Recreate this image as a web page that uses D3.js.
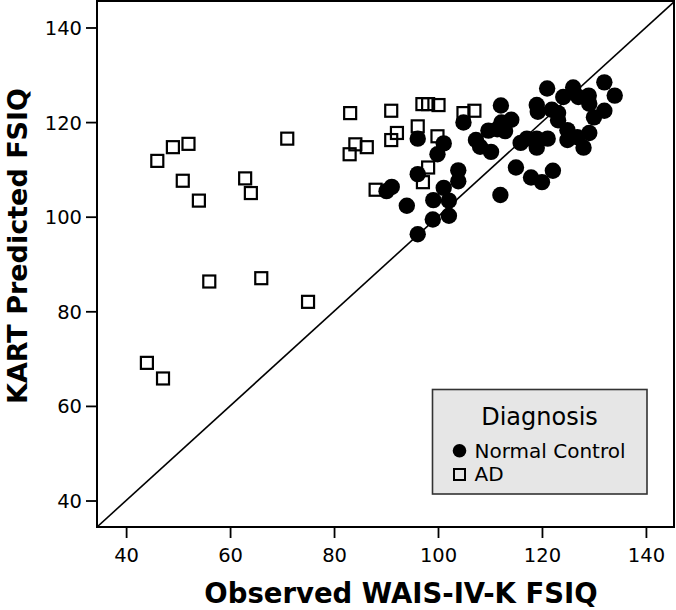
<!DOCTYPE html>
<html>
<head>
<meta charset="utf-8">
<script src="https://cdn.jsdelivr.net/npm/d3@7"></script>
<style>
  html, body { margin: 0; padding: 0; background: #ffffff; }
  svg { display: block; }
  text { font-family: "DejaVu Sans", sans-serif; fill: #000; }
</style>
</head>
<body>
<svg id="chart" width="676" height="610"></svg>
<script>
// ---- Data ----
const xTickValues = [40, 60, 80, 100, 120, 140];
const yTickValues = [40, 60, 80, 100, 120, 140];
const xTitle = "Observed WAIS-IV-K FSIQ";
const yTitle = "KART Predicted FSIQ";
const legendTitle = "Diagnosis";
const groupNames = ["Normal Control", "AD"];

// Normal Control: observed (x) and predicted (y)
const ncObserved = [112.1, 104.9, 96.1, 101.1, 99.9, 107.3, 108.1, 110.2, 109.7, 111.4,
  112.2, 114.1, 112.9, 121.0, 126.0, 132.0, 134.0, 124.1, 127.0, 129.0,
  129.1, 119.0, 119.2, 121.9, 123.1, 123.1, 132.0, 130.0, 115.9, 117.1,
  119.0, 119.0, 121.1, 124.9, 124.9, 126.8, 128.0, 129.1, 115.0, 117.9,
  120.0, 122.1, 112.0, 103.9, 103.9, 96.1, 91.1, 90.1, 101.1, 99.1,
  102.1, 94.0, 99.0, 102.1, 96.1];
const ncPredicted = [123.5, 119.9, 116.5, 115.5, 113.2, 116.2, 114.8, 113.7, 118.2, 118.5,
  119.9, 120.5, 118.1, 127.1, 127.3, 128.4, 125.6, 125.3, 125.3, 125.6,
  123.9, 123.6, 122.2, 122.6, 121.9, 120.4, 122.4, 121.0, 115.6, 116.5,
  116.5, 114.6, 116.5, 118.3, 116.2, 116.8, 114.6, 117.7, 110.4, 108.3,
  107.3, 109.7, 104.6, 109.8, 107.5, 109.0, 106.3, 105.4, 106.1, 103.5,
  103.4, 102.3, 99.4, 100.2, 96.3];

// AD: observed (x) and predicted (y)
const adObserved = [46.0, 49.0, 52.0, 50.9, 54.0, 62.9, 64.0, 71.0, 56.0, 66.0,
  75.0, 44.0, 47.1, 83.1, 91.0, 97.0, 98.1, 100.1, 104.9, 107.0,
  96.1, 92.1, 91.0, 99.9, 86.3, 84.1, 83.0, 98.1, 97.1, 88.0];
const adPredicted = [111.8, 114.7, 115.4, 107.6, 103.4, 108.1, 105.0, 116.5, 86.3, 87.0,
  82.0, 69.1, 65.8, 121.9, 122.4, 123.8, 123.8, 123.6, 121.9, 122.4,
  119.1, 117.7, 116.2, 117.0, 114.7, 115.3, 113.2, 110.4, 107.3, 105.7];

// ---- Layout ----
const svg = d3.select("#chart");
const plot = { left: 97, right: 674, top: 1, bottom: 527 };

const x = d3.scaleLinear().domain([34.4, 145.4]).range([plot.left, plot.right]);
const y = d3.scaleLinear().domain([34.4, 145.6]).range([plot.bottom, plot.top]);

svg.append("rect").attr("width", 676).attr("height", 610).attr("fill", "#ffffff");

// Clip for plot area
svg.append("clipPath").attr("id", "clip")
  .append("rect")
  .attr("x", plot.left).attr("y", plot.top)
  .attr("width", plot.right - plot.left).attr("height", plot.bottom - plot.top);

// Identity reference line (y = x)
const lineDomain = [34.4, 145.4];
svg.append("line")
  .attr("clip-path", "url(#clip)")
  .attr("x1", x(lineDomain[0])).attr("y1", y(lineDomain[0]))
  .attr("x2", x(lineDomain[1])).attr("y2", y(lineDomain[1]))
  .attr("stroke", "#000").attr("stroke-width", 1.6);

// Points
const ncData = ncObserved.map((v, i) => ({ x: v, y: ncPredicted[i] }));
const adData = adObserved.map((v, i) => ({ x: v, y: adPredicted[i] }));

const pts = svg.append("g").attr("clip-path", "url(#clip)");
pts.selectAll("circle.nc").data(ncData).join("circle")
  .attr("class", "nc")
  .attr("cx", d => x(d.x)).attr("cy", d => y(d.y))
  .attr("r", 8.2).attr("fill", "#000");

const sq = 12;
pts.selectAll("rect.ad").data(adData).join("rect")
  .attr("class", "ad")
  .attr("x", d => x(d.x) - sq / 2).attr("y", d => y(d.y) - sq / 2)
  .attr("width", sq).attr("height", sq)
  .attr("fill", "none").attr("stroke", "#000").attr("stroke-width", 2.2);

// Axes
const xAxis = d3.axisBottom(x).tickValues(xTickValues).tickSize(11).tickSizeOuter(0);
const gx = svg.append("g").attr("transform", `translate(0,${plot.bottom})`).call(xAxis);
gx.select(".domain").remove();
gx.selectAll(".tick line").attr("stroke", "#000").attr("stroke-width", 1.8);
gx.selectAll(".tick text")
  .attr("y", 35).attr("dy", null)
  .style("font-family", "DejaVu Sans").style("font-size", "19.5px").attr("fill", "#000");

const yAxis = d3.axisLeft(y).tickValues(yTickValues).tickSize(11).tickSizeOuter(0).tickPadding(4);
const gy = svg.append("g").attr("transform", `translate(${plot.left},0)`).call(yAxis);
gy.select(".domain").remove();
gy.selectAll(".tick line").attr("stroke", "#000").attr("stroke-width", 1.8);
gy.selectAll(".tick text")
  .attr("dy", "0.36em")
  .style("font-family", "DejaVu Sans").style("font-size", "19.5px").attr("fill", "#000");

// Frame
svg.append("rect")
  .attr("x", plot.left).attr("y", plot.top)
  .attr("width", plot.right - plot.left).attr("height", plot.bottom - plot.top)
  .attr("fill", "none").attr("stroke", "#000").attr("stroke-width", 2);

// Axis titles
svg.append("text")
  .attr("x", 401).attr("y", 603)
  .attr("text-anchor", "middle")
  .style("font-size", "27.5px").style("font-weight", "bold")
  .text(xTitle);

svg.append("text")
  .attr("transform", "translate(27,246) rotate(-90)")
  .attr("text-anchor", "middle")
  .style("font-size", "27px").style("font-weight", "bold")
  .text(yTitle);

// Legend
const lg = svg.append("g");
lg.append("rect")
  .attr("x", 432.5).attr("y", 389.5).attr("width", 214.5).attr("height", 104.5)
  .attr("fill", "#e6e6e6").attr("stroke", "#333").attr("stroke-width", 1.6);
lg.append("text")
  .attr("x", 539.5).attr("y", 425).attr("text-anchor", "middle")
  .style("font-size", "24px").text(legendTitle);
lg.append("circle").attr("cx", 459.5).attr("cy", 450.8).attr("r", 6.8).attr("fill", "#000");
lg.append("text").attr("x", 474.5).attr("y", 457.5)
  .style("font-size", "20px").text(groupNames[0]);
lg.append("rect").attr("x", 454).attr("y", 469).attr("width", 11).attr("height", 11)
  .attr("fill", "none").attr("stroke", "#000").attr("stroke-width", 2);
lg.append("text").attr("x", 474.5).attr("y", 481)
  .style("font-size", "20px").text(groupNames[1]);
</script>
</body>
</html>
